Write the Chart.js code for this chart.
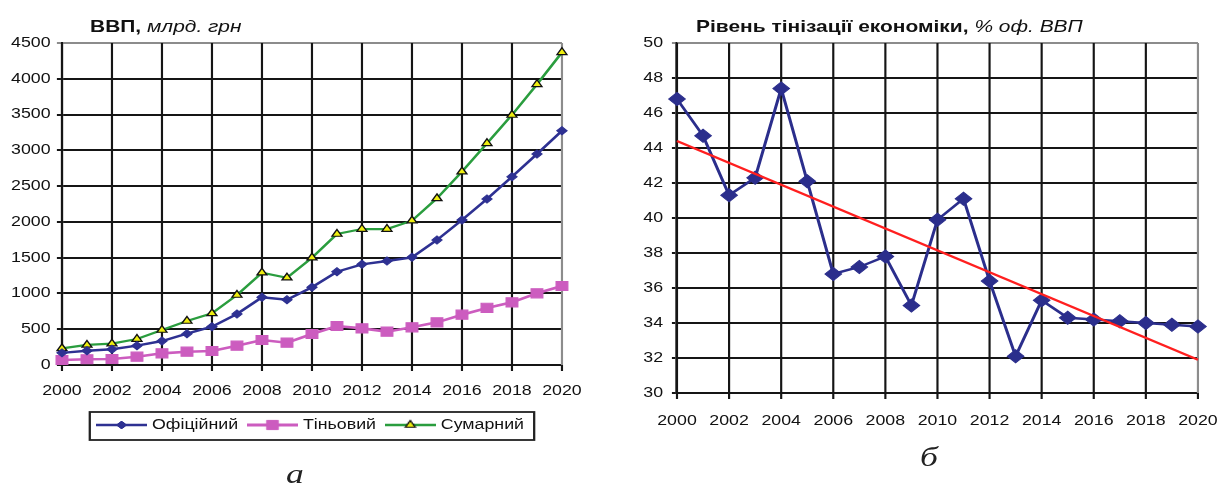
<!DOCTYPE html>
<html>
<head>
<meta charset="utf-8">
<script src="https://cdn.jsdelivr.net/npm/chart.js@4.4.1/dist/chart.umd.min.js"></script>
<style>
html,body{margin:0;padding:0;background:#fff;width:1229px;height:485px;overflow:hidden;}
canvas{position:absolute;top:0;}
#c1{left:0;}
#c2{left:622px;}
.t{position:absolute;transform:scaleX(1.27);transform-origin:0 0;white-space:nowrap;line-height:1;}
.title{font-family:"Liberation Sans",Arial,sans-serif;font-size:16.5px;color:#111;}
.title b{font-weight:bold;}
.title i{font-style:italic;font-weight:normal;}
.cap{font-family:"Liberation Serif","Times New Roman",serif;font-style:italic;font-size:28px;color:#222;}
</style>
</head>
<body>
<canvas id="c1" width="470" height="485"></canvas>
<canvas id="c2" width="478" height="485"></canvas>
<div class="t title" style="left:90px;top:17.5px;"><b>ВВП, </b><i>млрд. грн</i></div>
<div class="t title" style="left:696px;top:17.5px;"><b>Рівень тінізації економіки, </b><i>% оф. ВВП</i></div>
<div class="t cap" style="left:286px;top:460px;">а</div>
<div class="t cap" style="left:920px;top:443px;">б</div>
<script>
// ---- data ----
const years = [2000,2001,2002,2003,2004,2005,2006,2007,2008,2009,2010,2011,2012,2013,2014,2015,2016,2017,2018,2019,2020];
const official = [170,200,220,270,335,437,535,713,946,913,1086,1304,1407,1453,1505,1747,2026,2320,2631,2949,3274];
const shadow   = [70,80,84,116,163,186,196,270,349,312,433,545,512,466,527,596,703,797,876,1002,1104];
const total    = [233,280,298,363,489,615,722,978,1290,1220,1500,1831,1900,1900,2017,2329,2702,3098,3494,3923,4370];
const shadowShare = [46.8,44.7,41.3,42.3,47.4,42.1,36.8,37.2,37.8,35.0,39.9,41.1,36.4,32.1,35.3,34.3,34.2,34.1,34.0,33.9,33.8];
const trendYears  = [2000,2020];
const trendValues = [44.4,31.9];
const xTicks    = [2000,2002,2004,2006,2008,2010,2012,2014,2016,2018,2020];
const gdpTicks  = [0,500,1000,1500,2000,2500,3000,3500,4000,4500];
const shareTicks = [30,32,34,36,38,40,42,44,46,48,50];
const seriesNames = ['Офіційний','Тіньовий','Сумарний'];

// ---- styling ----
const S = 1.27; // horizontal stretch of the original picture
Chart.defaults.font.family = '"Liberation Sans", Arial, sans-serif';
Chart.defaults.font.size = 14;
Chart.defaults.color = '#111';
const DARK = '#151515', GREY = '#8c8c8c';
const C_OFF = '#2e3192', C_SH = '#cc5cbf', C_TOT = '#2a9d3e', C_TRI = '#eeee10';
const C_NAVY = '#2b2e8c', C_RED = '#ff1f1f';

const pts = (xs, ys) => xs.map((x, i) => ({x: x, y: ys[i]}));

function icon(color, lw, style, r, fill, stroke, bw) {
  const c = document.createElement('canvas');
  c.width = 40; c.height = 16;
  const g = c.getContext('2d');
  g.strokeStyle = color; g.lineWidth = lw;
  g.beginPath(); g.moveTo(0, 8); g.lineTo(40, 8); g.stroke();
  g.fillStyle = fill; g.strokeStyle = stroke; g.lineWidth = bw;
  Chart.helpers.drawPoint(g, {pointStyle: style, radius: r, rotation: 0, borderWidth: bw}, 20, 8);
  return c;
}
const icons = [
  icon(C_OFF, 2.6, 'rectRot', 4, C_OFF, C_OFF, 1),
  icon(C_SH, 2.8, 'rect', 6.5, C_SH, C_SH, 1),
  icon(C_TOT, 2.4, 'triangle', 4.5, C_TRI, '#111', 1.2)
];

const legendBorder = {
  id: 'legendBorder',
  afterDraw(chart) {
    const lg = chart.legend;
    if (!lg || !lg.options.display || !lg.legendHitBoxes || !lg.legendHitBoxes.length) return;
    let l = Infinity, r = -Infinity, t = Infinity, b = -Infinity;
    lg.legendHitBoxes.forEach(h => {
      l = Math.min(l, h.left); r = Math.max(r, h.left + h.width);
      t = Math.min(t, h.top); b = Math.max(b, h.top + h.height);
    });
    const ctx = chart.ctx;
    ctx.save();
    ctx.strokeStyle = '#222'; ctx.lineWidth = 1.8;
    ctx.strokeRect(l - 8, t - 6, r - l + 16, b - t + 14);
    ctx.restore();
  }
};

// vertical grid lines + tick marks at the x scale's own tick positions
const vGrid = {
  id: 'vGrid',
  beforeDatasetsDraw(chart) {
    const sx = chart.scales.x, a = chart.chartArea, ctx = chart.ctx;
    ctx.save();
    ctx.lineWidth = 1.7;
    sx.ticks.forEach((t, i) => {
      const px = sx.getPixelForValue(t.value);
      ctx.strokeStyle = (i === sx.ticks.length - 1) ? GREY : DARK;
      ctx.beginPath(); ctx.moveTo(px, a.top); ctx.lineTo(px, a.bottom); ctx.stroke();
      ctx.strokeStyle = DARK;
      ctx.beginPath(); ctx.moveTo(px, a.bottom); ctx.lineTo(px, a.bottom + 6); ctx.stroke();
    });
    ctx.restore();
  }
};

function xScale(h, pad) {
  return {
    type: 'linear', min: xTicks[0], max: xTicks[xTicks.length - 1],
    afterBuildTicks: s => { s.ticks = xTicks.map(v => ({value: v})); },
    afterFit: s => { s.height = h; s.paddingLeft = 0; s.paddingRight = 0; },
    ticks: {callback: v => String(v), padding: pad + 6, maxRotation: 0, autoSkip: false, color: '#111'},
    grid: {display: false, drawTicks: false},
    border: {display: true, color: DARK, width: 2}
  };
}
function yScale(ticksArr, w, pad) {
  return {
    type: 'linear', min: ticksArr[0], max: ticksArr[ticksArr.length - 1],
    afterBuildTicks: s => { s.ticks = ticksArr.map(v => ({value: v})); },
    afterFit: s => { s.width = w; },
    ticks: {callback: v => String(v), padding: pad, color: '#111'},
    grid: {
      display: true, drawOnChartArea: true,
      color: c => (c.index === ticksArr.length - 1) ? GREY : DARK,
      lineWidth: 2, tickLength: 4, drawTicks: true
    },
    border: {display: true, color: DARK, width: 1.7}
  };
}

// widen the bitmap and redraw with a horizontal stretch, like the source picture
function stretch(chart) {
  const c = chart.canvas;
  const w = chart.width, h = chart.height;
  c.width = Math.round(w * S); c.height = h;
  c.style.width = c.width + 'px'; c.style.height = h + 'px';
  chart.ctx.setTransform(S, 0, 0, 1, 0, 0);
  chart.draw();
}

const ch1 = new Chart(document.getElementById('c1'), {
  type: 'line',
  data: {
    datasets: [
      {label: seriesNames[0], data: pts(years, official), borderColor: C_OFF, backgroundColor: C_OFF,
       borderWidth: 2.4, pointStyle: 'rectRot', pointRadius: 4, pointBorderWidth: 1, tension: 0, clip: false},
      {label: seriesNames[1], data: pts(years, shadow), borderColor: C_SH, backgroundColor: C_SH,
       borderWidth: 2.6, pointStyle: 'rect', pointRadius: 6.5, pointBorderWidth: 1, tension: 0, clip: false},
      {label: seriesNames[2], data: pts(years, total), borderColor: C_TOT, backgroundColor: C_TRI,
       pointBackgroundColor: C_TRI, pointBorderColor: '#111', borderWidth: 2.2, pointStyle: 'triangle',
       pointRadius: 4.5, pointBorderWidth: 1.2, tension: 0, clip: false}
    ]
  },
  options: {
    responsive: false, animation: false, events: [], devicePixelRatio: 1,
    layout: {padding: {left: 0, right: 27.5, top: 43, bottom: 43}},
    scales: {x: xScale(43, 12), y: yScale(gdpTicks, 48.8, 5)},
    plugins: {
      tooltip: {enabled: false},
      title: {display: false},
      legend: {
        display: true, position: 'bottom', fullSize: false,
        labels: {
          usePointStyle: true, pointStyleWidth: 34, padding: 10, color: '#111',
          font: {size: 14},
          generateLabels: chart => {
            const items = Chart.defaults.plugins.legend.labels.generateLabels(chart);
            return items.map((it, i) => Object.assign(it, {pointStyle: icons[i], lineWidth: 0}));
          }
        }
      }
    }
  },
  plugins: [vGrid, legendBorder]
});

const ch2 = new Chart(document.getElementById('c2'), {
  type: 'line',
  data: {
    datasets: [
      {label: 'Тренд', data: pts(trendYears, trendValues), borderColor: C_RED, backgroundColor: C_RED,
       borderWidth: 2, pointRadius: 0, tension: 0, clip: false},
      {label: 'Рівень тінізації', data: pts(years, shadowShare), borderColor: C_NAVY, backgroundColor: C_NAVY,
       borderWidth: 2.4, pointStyle: 'rectRot', pointRadius: 6.5, pointBorderWidth: 1, tension: 0, clip: false}
    ]
  },
  options: {
    responsive: false, animation: false, events: [], devicePixelRatio: 1,
    layout: {padding: {left: 0, right: 24.5, top: 43, bottom: 50}},
    scales: {x: xScale(42, 14), y: yScale(shareTicks, 43.3, 7)},
    plugins: {tooltip: {enabled: false}, title: {display: false}, legend: {display: false}}
  },
  plugins: [vGrid]
});

stretch(ch1);
stretch(ch2);
</script>
</body>
</html>
